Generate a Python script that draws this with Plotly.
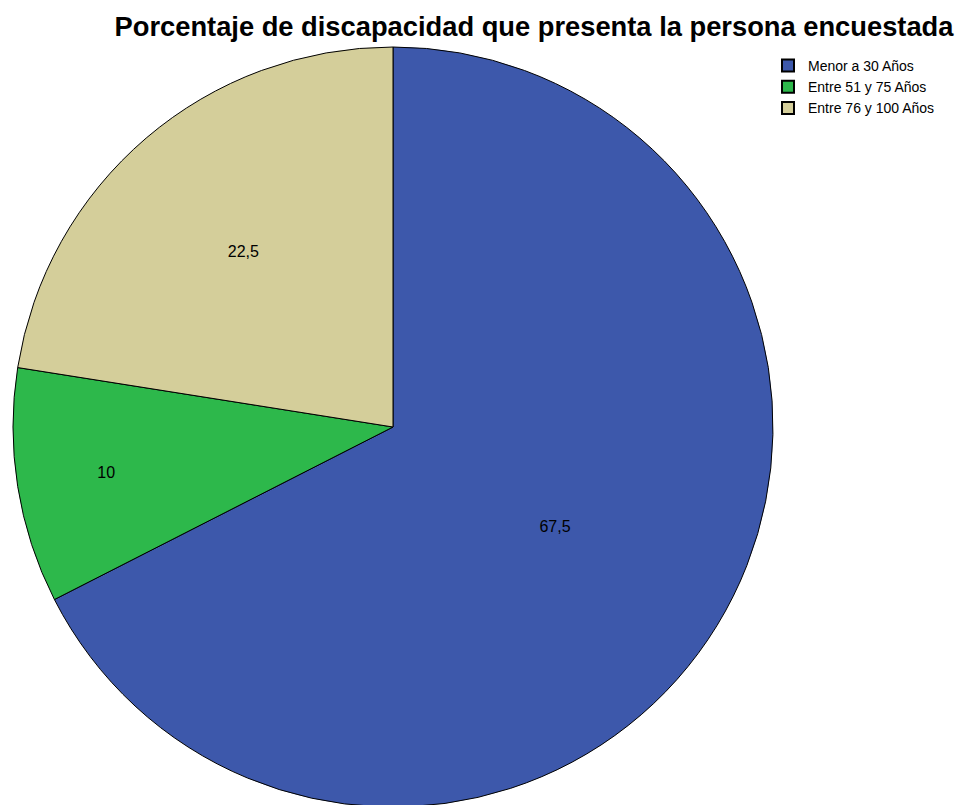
import plotly.graph_objects as go

categories = ["Menor a 30 Años", "Entre 51 y 75 Años", "Entre 76 y 100 Años"]
values = [67.5, 10, 22.5]
colors = ["#3D58AB", "#2DB84B", "#D4CE9A"]

labels_text = [("%g" % v).replace(".", ",") for v in values]

W, H = 966, 805
off = 8            # page body margin offset
cx, cy, r = 393 - off, 427 - off, 380

fig = go.Figure(go.Pie(
    labels=categories,
    values=values,
    text=labels_text,
    textinfo="text",
    textposition="inside",
    insidetextorientation="horizontal",
    textfont=dict(family="Liberation Sans, Arial", size=16, color="black"),
    marker=dict(colors=colors, line=dict(color="black", width=1)),
    sort=False,
    direction="clockwise",
    rotation=0,
    domain=dict(x=[(cx - r) / W, (cx + r) / W],
                y=[1 - (cy + r) / H, 1 - (cy - r) / H]),
    hoverinfo="label+value",
))

fig.update_layout(
    width=W, height=H,
    margin=dict(l=0, r=0, t=0, b=0),
    paper_bgcolor="white",
    plot_bgcolor="white",
    separators=",.",
    title=dict(
        text="<b>Porcentaje de discapacidad que presenta la persona encuestada</b>",
        x=(534 - off) / W, xanchor="center", y=1 - (26 - off) / H, yanchor="middle",
        font=dict(family="Liberation Sans, Arial", size=27.3, color="black"),
    ),
    showlegend=True,
    legend=dict(
        x=(808 - 40 - off) / W, xanchor="left", y=1 - (50 - off) / H, yanchor="top",
        font=dict(family="Liberation Sans, Arial", size=14, color="black"),
        bgcolor="rgba(0,0,0,0)",
        itemsizing="constant",
        tracegroupgap=0,
    ),
)

fig.write_html("out.html")
